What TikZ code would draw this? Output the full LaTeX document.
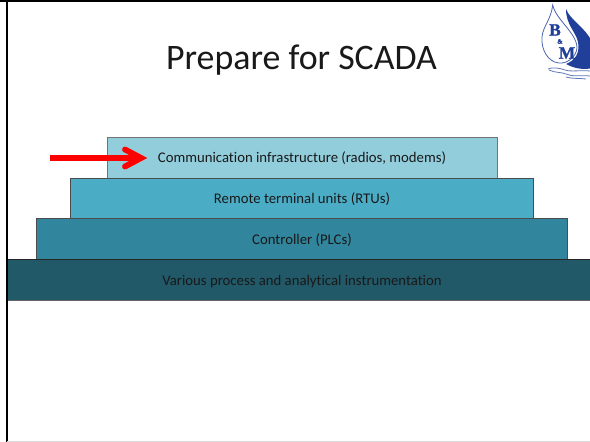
\documentclass[tikz,border=0pt]{standalone}
\usepackage{fontspec}
\setmainfont{Carlito}[Ligatures=NoCommon]
\newfontfamily\logofont{Liberation Serif}[BoldFeatures={FakeBold=1.5}]
\definecolor{tierA}{HTML}{92CDDC}
\definecolor{tierB}{HTML}{4BACC6}
\definecolor{tierC}{HTML}{31859C}
\definecolor{tierD}{HTML}{215968}
\definecolor{logoblue}{HTML}{1F3F98}
\tikzset{
  x=0.75pt,y=-0.75pt,
  tiertext/.style={inner sep=0pt,text=black!90,font=\fontsize{11.05pt}{13pt}\selectfont},
  logotxt/.style={text=logoblue,inner sep=0pt,font=\logofont\bfseries\fontsize{#1}{#1}\selectfont}
}
\begin{document}
\begin{tikzpicture}
\useasboundingbox (0,0) rectangle (590,442);
\fill[white] (0,0) rectangle (590,442);
% frame
\draw[black,line width=2pt] (0,1) -- (590,1);
\draw[black,line width=2pt] (7,0) -- (7,442);
\draw[black!15,line width=0.8pt] (7,441.5) -- (590,441.5);
% tiers
\path[fill=tierA] (107,137) rectangle (497,178);
\path[fill=tierB] (70.5,178) rectangle (533.5,218.5);
\path[fill=tierC] (36.5,218.5) rectangle (567.5,259);
\path[fill=tierD] (8,259) rectangle (590,300);
\draw[black!55,line width=0.7pt] (107,178) -- (107,137) -- (497,137) -- (497,178);
\draw[black!70,line width=0.7pt] (70.5,218.5) -- (70.5,178) -- (533.5,178) -- (533.5,218.5);
\draw[black!70,line width=0.7pt] (36.5,259) -- (36.5,218.5) -- (567.5,218.5) -- (567.5,259);
\draw[black!85,line width=0.7pt] (8,259) -- (590,259);
\draw[black!60,line width=0.7pt] (8,300) -- (590,300);
\node[tiertext] (t1) at (302,158.5) {Communication infrastructure (radios, modems)};
\node[tiertext] (t2) at (302,199.5) {Remote terminal units (RTUs)};
\node[tiertext] (t3) at (302,240) {Controller (PLCs)};
\node[tiertext] (t4) at (302,281.5) {Various process and analytical instrumentation};
% title
\node[inner sep=0pt,text=black!90,font=\fontsize{26.9pt}{30pt}\selectfont] (title) at (301.5,60.5) {Prepare for SCADA};
% arrow
\coordinate (arrS) at (50,158);
\coordinate (arrE) at (140,158);
\draw[red,line width=3.8pt] (arrS) -- (arrE);
\draw[red,line width=4.4pt,line cap=round,line join=miter] (125,149.5) -- (141,158) -- (125,166.5);
% logo
\begin{scope}
\clip (520,0) rectangle (590,90);
\draw[logoblue!80,line width=0.6pt,fill=white] (552.7,5) .. controls (556,20) and (577,33) .. (577,48) .. controls (576,58) and (566,64) .. (559,63) .. controls (548,62) and (541,50) .. (542,37) .. controls (543,26) and (551,20) .. (552.7,5) -- cycle;
\fill[logoblue] (566,9) .. controls (570,20) and (586,28) .. (592,42) -- (592,68) .. controls (585,70) and (575,69) .. (566,64) .. controls (576,60) and (580,52) .. (578,42) .. controls (576,32) and (566,25) .. (566,9) -- cycle;
\draw[logoblue!70,line width=0.6pt] (548,69) .. controls (552,67) and (560,68) .. (565,70) .. controls (570,72) and (582,70) .. (590,71);
\draw[logoblue!70,line width=0.6pt] (549,70) .. controls (555,73) and (562,72) .. (566,74) .. controls (572,77) and (580,75) .. (590,76);
\draw[logoblue!70,line width=0.6pt] (566,77) .. controls (572,79) and (580,78) .. (586,79);
\node[logotxt=13pt] (logoB) at (555,30) {B};
\node[logotxt=5pt] (logoAmp) at (560,41.5) {\&};
\node[logotxt=13pt] (logoM) at (567,53) {M};
\end{scope}
\end{tikzpicture}
\end{document}
